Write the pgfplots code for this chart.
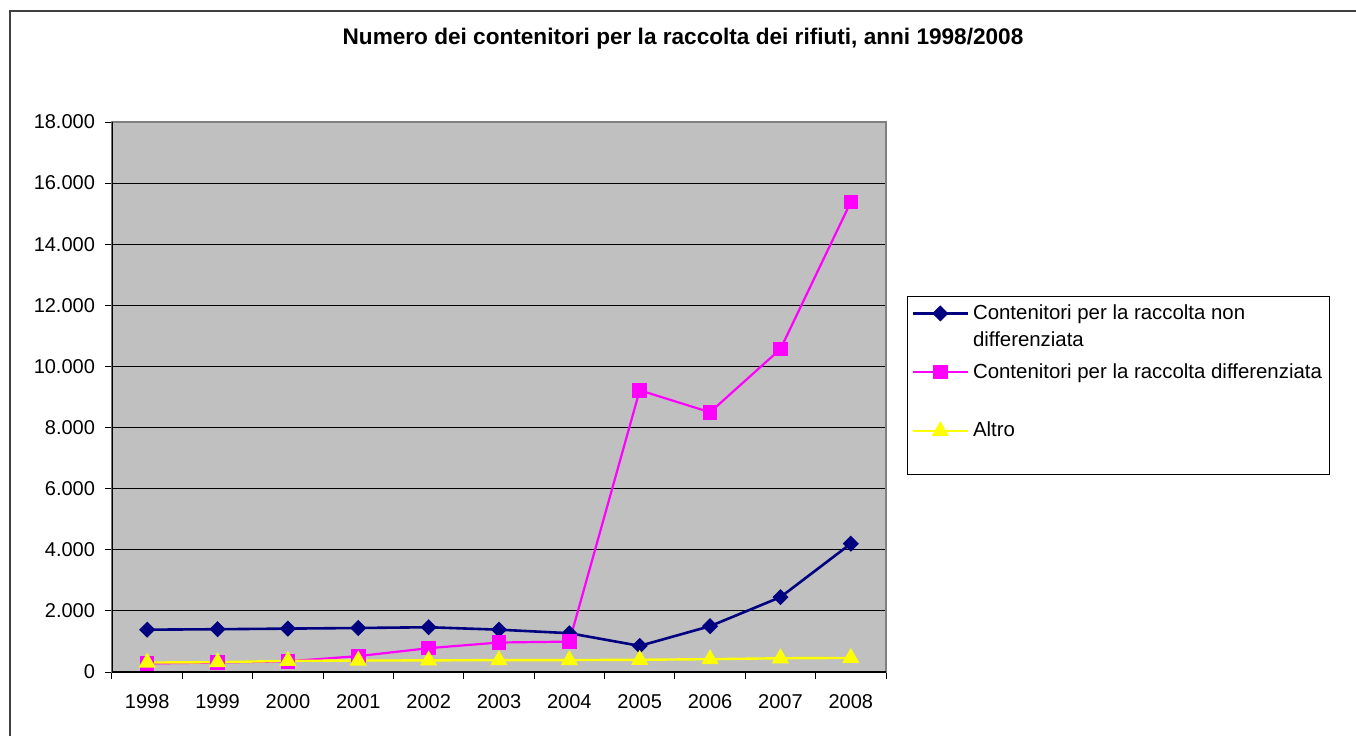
\documentclass[border=0pt]{standalone}
\usepackage{fontspec}
\setmainfont{Liberation Sans}
\usepackage{pgfplots}
\pgfplotsset{compat=1.18}
\definecolor{bgray}{HTML}{C0C0C0}
\definecolor{navyc}{HTML}{000080}
\definecolor{magc}{HTML}{FF00FF}
\definecolor{yelc}{HTML}{FFFF00}
\begin{document}
\begin{tikzpicture}
\useasboundingbox (-56pt,-31.5pt) rectangle (622pt,336pt);
\draw[line width=1pt, color=black!75] (-51pt,-32pt) -- (-51pt,330.5pt) -- (623pt,330.5pt);
\node[anchor=base, font=\fontsize{11.3pt}{13pt}\selectfont\bfseries] at (285.5pt,313.5pt) {Numero dei contenitori per la raccolta dei rifiuti, anni 1998/2008};
\begin{axis}[
  at={(0pt,0pt)}, anchor=south west,
  scale only axis, width=387pt, height=275pt,
  xmin=-0.5, xmax=10.5, ymin=0, ymax=18000,
  scaled y ticks=false,
  axis background/.style={fill=bgray},
  axis line style={draw=black!50, line width=0.6pt},
  tick pos=left, tick align=outside,
  major tick length=3.5pt, minor tick length=3.5pt,
  xtick={0,...,10},
  xticklabels={1998,1999,2000,2001,2002,2003,2004,2005,2006,2007,2008},
  major x tick style={draw=none},
  minor xtick={-0.5,0.5,...,10.5},
  minor x tick style={black, line width=0.5pt},
  ytick={0,2000,...,18000},
  yticklabels={0,2.000,4.000,6.000,8.000,10.000,12.000,14.000,16.000,18.000},
  y tick style={black, line width=0.5pt},
  ymajorgrids, y grid style={black, line width=0.5pt},
  tick label style={font=\fontsize{10pt}{12pt}\selectfont},
  xticklabel style={yshift=-4pt},
  yticklabel style={xshift=-1.5pt},
  legend style={at={(axis description cs:1.0271,0.6836)}, anchor=north west,
    draw=black, line width=0.5pt, fill=white, inner sep=2pt,
    font=\fontsize{10.2pt}{13.5pt}\selectfont,
    nodes={align=left, anchor=west}, row sep=3pt},
  legend cell align=left,
]
\addplot[color=navyc, line width=1.3pt, mark=square*, mark size=2.2pt, mark options={rotate=45, solid},
  legend image code/.code={\draw[mark repeat=2,mark phase=2,yshift=6.75pt] plot coordinates {(0pt,0pt)(13.75pt,0pt)(27.5pt,0pt)};}]
  coordinates {(0,1385)(1,1400)(2,1420)(3,1440)(4,1465)(5,1385)(6,1270)(7,855)(8,1500)(9,2450)(10,4200)};
\addlegendentry{Contenitori per la raccolta non\\differenziata}
\addplot[color=magc, line width=1.1pt, mark=square*, mark size=3.1pt,
  legend image code/.code={\draw[mark repeat=2,mark phase=2,yshift=6.75pt] plot coordinates {(0pt,0pt)(13.75pt,0pt)(27.5pt,0pt)};}]
  coordinates {(0,280)(1,310)(2,350)(3,520)(4,780)(5,965)(6,995)(7,9220)(8,8500)(9,10570)(10,15380)};
\addlegendentry{Contenitori per la raccolta differenziata\\\strut}
\addplot[color=yelc, line width=1.2pt, mark=triangle*, mark size=3.8pt,
  legend image code/.code={\draw[mark repeat=2,mark phase=2,yshift=6.75pt] plot coordinates {(0pt,0pt)(13.75pt,0pt)(27.5pt,0pt)};}]
  coordinates {(0,310)(1,320)(2,365)(3,375)(4,380)(5,390)(6,390)(7,400)(8,420)(9,450)(10,460)};
\addlegendentry{Altro\\\strut}
\draw[black, line width=0.6pt] (rel axis cs:0,1) -- (rel axis cs:0,0) -- (rel axis cs:1,0);
\end{axis}
\end{tikzpicture}
\end{document}
